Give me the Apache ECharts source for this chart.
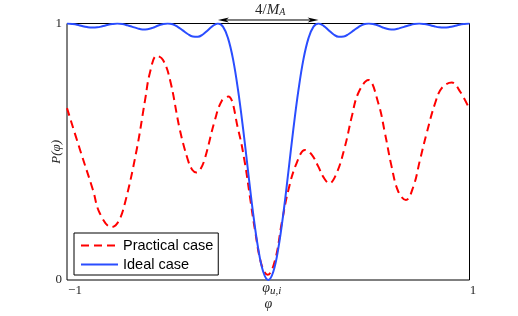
<!DOCTYPE html>
<html>
<head>
<meta charset="utf-8">
<script src="https://cdn.jsdelivr.net/npm/echarts@6/dist/echarts.min.js"></script>
<style>html,body{margin:0;padding:0;background:#fff;}#c{width:518px;height:316px;}</style>
</head>
<body>
<div id="c"></div>
<script>
// ---- data ----
const seriesNames = ['Practical case', 'Ideal case'];
const xTickLabels = ['{a|−1}', '{b|φ}{s|u,i}', '{c|1}'];
const yTickLabels = ['0', '1'];
const arrowSpan = [-0.25, 0.25];   // 4/M_A annotation span (data units)
const arrowLevel = 1.0137;
const arrowText = '{n|4/}{i|M}{s|A}';

const idealX = [-1,-0.975,-0.95,-0.925,-0.9,-0.875,-0.85,-0.825,-0.8,-0.775,-0.75,-0.725,-0.7,-0.675,-0.65,-0.625,-0.6,-0.575,-0.55,-0.525,-0.5,-0.475,-0.45,-0.425,-0.4,-0.375,-0.35,-0.325,-0.3,-0.275,-0.25,-0.225,-0.2,-0.175,-0.15,-0.125,-0.1,-0.075,-0.05,-0.025,0,
  0.025,0.05,0.075,0.1,0.125,0.15,0.175,0.2,0.225,0.25,0.275,0.3,0.325,0.35,0.375,0.4,0.425,0.45,0.475,0.5,0.525,0.55,0.575,0.6,0.625,0.65,0.675,0.7,0.725,0.75,0.775,0.8,0.825,0.85,0.875,0.9,0.925,0.95,0.975,1];
const idealY = [1,0.998,0.995,0.990,0.986,0.984,0.985,0.989,0.994,0.998,1,0.998,0.993,0.987,0.981,0.977,0.978,0.983,0.991,0.997,1,0.997,0.987,0.973,0.959,0.949,0.948,0.957,0.974,0.991,1,0.988,0.943,0.861,0.740,0.590,0.422,0.259,0.123,0.032,0,
  0.032,0.123,0.259,0.422,0.590,0.740,0.861,0.943,0.988,1,0.991,0.974,0.957,0.948,0.949,0.959,0.973,0.987,0.997,1,0.997,0.991,0.983,0.978,0.977,0.981,0.987,0.993,0.998,1,0.998,0.994,0.989,0.985,0.984,0.986,0.990,0.995,0.998,1];

const practX = [-1,-0.935,-0.871,-0.837,-0.778,-0.745,-0.712,-0.654,-0.612,-0.588,-0.554,-0.523,-0.488,-0.439,-0.40,-0.378,-0.356,-0.335,-0.314,-0.265,-0.230,-0.199,-0.149,-0.116,-0.091,-0.066,-0.033,-0.003,
  0.034,0.067,0.100,0.141,0.183,0.215,0.249,0.275,0.303,0.340,0.381,0.415,0.447,0.497,0.547,0.580,0.613,0.646,0.684,0.721,0.754,0.787,0.829,0.862,0.912,0.953,1];
const practY = [0.67,0.507,0.351,0.26,0.206,0.227,0.30,0.507,0.702,0.808,0.874,0.858,0.78,0.585,0.47,0.43,0.419,0.435,0.476,0.624,0.70,0.715,0.585,0.456,0.324,0.195,0.058,0.02,
  0.078,0.222,0.351,0.456,0.507,0.49,0.442,0.40,0.377,0.417,0.52,0.637,0.728,0.780,0.689,0.572,0.442,0.345,0.312,0.364,0.468,0.572,0.689,0.748,0.770,0.735,0.666];

const pair = (xs, ys) => xs.map((x, i) => [x, ys[i]]);
const serif = 'Liberation Serif';
const txt = '#262626';

const chart = echarts.init(document.getElementById('c'), null, {renderer: 'canvas'});
chart.setOption({
  animation: false,
  backgroundColor: '#fff',
  grid: {left: 67, right: 48.5, top: 23.5, bottom: 36, show: true, borderColor: '#000', borderWidth: 1,
         backgroundColor: 'transparent', containLabel: false, outerBoundsMode: 'none'},
  legend: {
    orient: 'vertical', left: 74, top: 233,
    data: seriesNames,
    itemWidth: 37, itemHeight: 14, itemGap: 4,
    padding: [5, 5, 3, 6],
    borderColor: '#000', borderWidth: 1, backgroundColor: '#fff',
    itemStyle: {opacity: 0},
    textStyle: {fontFamily: 'Liberation Sans', fontSize: 14.5, lineHeight: 14, color: '#000'}
  },
  xAxis: {
    type: 'value', min: -1, max: 1, interval: 1,
    axisLine: {show: false}, axisTick: {show: false}, splitLine: {show: false},
    axisLabel: {
      margin: 11, verticalAlign: 'middle', fontFamily: serif, fontSize: 13, color: txt,
      alignMinLabel: 'center', alignMaxLabel: 'center',
      formatter: v => xTickLabels[Math.round(v) + 1],
      rich: {
        a: {fontFamily: serif, fontSize: 13, color: txt, padding: [0, 0, 0, 16]},
        b: {fontFamily: serif, fontSize: 14, lineHeight: 14, fontStyle: 'italic', color: txt, padding: [0, 0, 5, 7]},
        s: {fontFamily: serif, fontSize: 11, lineHeight: 10, fontStyle: 'italic', color: txt, padding: [5, 0, 4, 0]},
        c: {fontFamily: serif, fontSize: 13, color: txt, padding: [0, 0, 0, 7]}
      }
    },
    name: 'φ', nameLocation: 'middle', nameGap: 17, nameMoveOverlap: false,
    nameTextStyle: {fontFamily: serif, fontSize: 14, fontStyle: 'italic', color: txt}
  },
  yAxis: {
    type: 'value', min: 0, max: 1, interval: 1,
    axisLine: {show: false}, axisTick: {show: false}, splitLine: {show: false},
    axisLabel: {margin: 5, fontFamily: serif, fontSize: 13, color: txt,
      verticalAlignMinLabel: 'middle', verticalAlignMaxLabel: 'middle',
      formatter: v => yTickLabels[Math.round(v)]},
    name: 'P(φ)', nameLocation: 'middle', nameGap: 4, nameMoveOverlap: false,
    nameTextStyle: {fontFamily: serif, fontSize: 13, fontStyle: 'italic', color: txt}
  },
  series: [
    {
      name: seriesNames[0], type: 'line', data: pair(practX, practY),
      smooth: 0.4, symbol: 'none', showSymbol: false,
      lineStyle: {color: '#ff0000', width: 2, type: [8, 5]},
      itemStyle: {color: '#ff0000'}
    },
    {
      name: seriesNames[1], type: 'line', data: pair(idealX, idealY),
      smooth: 0.4, symbol: 'none', showSymbol: false,
      lineStyle: {color: '#2a4dff', width: 2},
      itemStyle: {color: '#2a4dff'}
    }
  ]
});

// 4/M_A annotation: positioned from data values through the chart's own scale
const pL = chart.convertToPixel({gridIndex: 0}, [arrowSpan[0], arrowLevel]);
const pR = chart.convertToPixel({gridIndex: 0}, [arrowSpan[1], arrowLevel]);
const head = (tip, dir) => ({
  type: 'polygon', silent: true, z: 100,
  shape: {points: [[tip[0], tip[1]], [tip[0] + dir * 11, tip[1] - 2.6], [tip[0] + dir * 8, tip[1]], [tip[0] + dir * 11, tip[1] + 2.6]]},
  style: {fill: '#000'}
});
chart.setOption({
  graphic: [
    {type: 'line', silent: true, z: 100, shape: {x1: pL[0] + 6, y1: pL[1], x2: pR[0] - 6, y2: pR[1]}, style: {stroke: '#000', lineWidth: 1}},
    head(pL, 1), head(pR, -1),
    {type: 'text', silent: true, z: 100, x: (pL[0] + pR[0]) / 2 + 2, y: pL[1] - 3,
     style: {text: arrowText, align: 'center', verticalAlign: 'bottom', fill: txt,
       rich: {
         n: {fontFamily: serif, fontSize: 15, lineHeight: 14, fill: txt},
         i: {fontFamily: serif, fontSize: 15, lineHeight: 14, fontStyle: 'italic', fill: txt},
         s: {fontFamily: serif, fontSize: 10, lineHeight: 10, fontStyle: 'italic', fill: txt, padding: [5, 0, 0, 0]}
       }}}
  ]
});
</script>
</body>
</html>
